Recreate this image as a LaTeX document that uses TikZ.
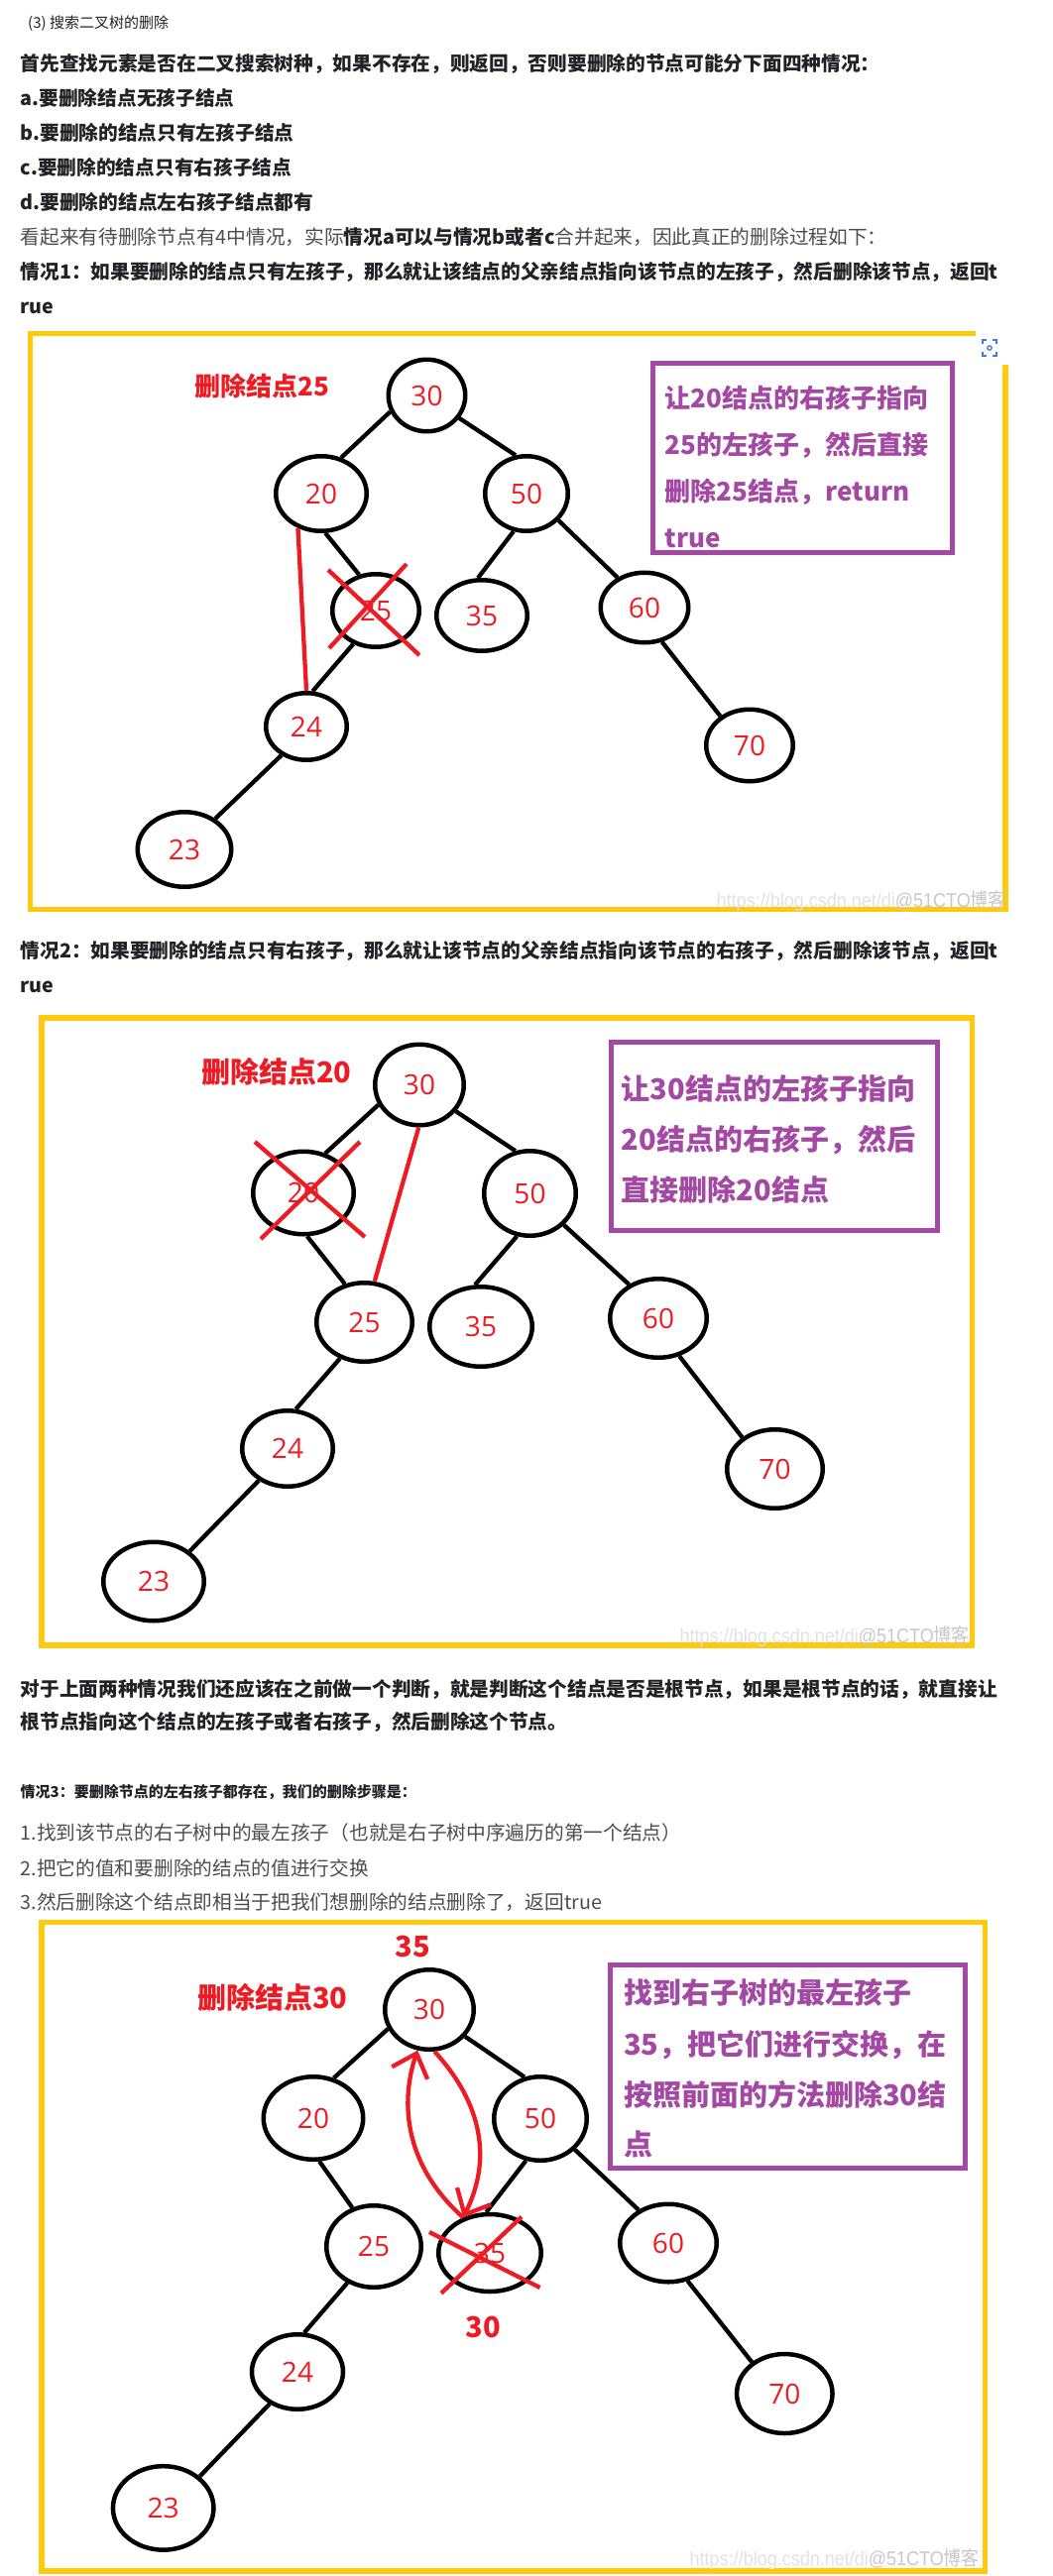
\documentclass[tikz,border=0pt]{standalone}
\usepackage{fontspec}
\setmainfont{Noto Sans CJK SC}
\newfontfamily\numfont{Open Sans}
\newfontfamily\wmfont{Liberation Sans}
\newfontfamily\cjkwm{Noto Sans CJK SC}
\usetikzlibrary{shapes.geometric,arrows.meta}
\definecolor{gold}{HTML}{FFC90E}
\definecolor{pred}{HTML}{ED1C24}
\definecolor{ppurple}{HTML}{A349A4}
\definecolor{txtdark}{HTML}{222226}
\definecolor{txtgray}{HTML}{4D4D4D}
\definecolor{wmlight}{HTML}{E2E2E2}
\definecolor{wmdark}{HTML}{C8C8C8}
\definecolor{iconblue}{HTML}{3D7DD8}
\tikzset{
  tn/.style={ellipse, draw=black, line width=4.5pt, inner sep=0pt, text=pred,
    font=\numfont\fontsize{28}{30}\selectfont},
  edge/.style={black, line width=4.3pt},
  redline/.style={pred, line width=4.3pt},
  goldframe/.style={gold, line width=5.5pt},
  pbox/.style={ppurple, line width=5pt},
  bline/.style={anchor=base west, inner sep=0pt, text=txtdark,
    font=\bfseries\fontsize{19.7}{24}\selectfont},
  gline/.style={anchor=base west, inner sep=0pt, text=txtgray,
    font=\fontsize{19.7}{24}\selectfont},
  sline/.style={anchor=base west, inner sep=0pt, text=txtdark,
    font=\fontsize{15}{18}\selectfont},
  ptextA/.style={anchor=base west, inner sep=0pt, text=ppurple,
    font=\bfseries\fontsize{26}{30}\selectfont},
  ptextB/.style={anchor=base west, inner sep=0pt, text=ppurple,
    font=\bfseries\fontsize{29}{32}\selectfont},
  rlabA/.style={anchor=base west, inner sep=0pt, text=pred,
    font=\bfseries\fontsize{26}{30}\selectfont},
  rlabB/.style={anchor=base west, inner sep=0pt, text=pred,
    font=\bfseries\fontsize{29}{32}\selectfont},
  rnum/.style={anchor=base, inner sep=0pt, text=pred,
    font=\bfseries\fontsize{29}{32}\selectfont},
  wm/.style={anchor=east, inner sep=0pt, font=\wmfont\fontsize{20}{22}\selectfont},
  swap/.style={redline, -{Straight Barb[length=21pt, width=38pt]}},
}
\newcommand{\wmtext}{\scalebox{0.9}[1]{\color{wmlight}https://blog.csdn.net/di\color{wmdark}@51CTO{\cjkwm 博客}}}
\begin{document}
\begin{tikzpicture}[x=1pt, y=-1pt]
\useasboundingbox (0,0) rectangle (1061,2599);
\fill[white] (0,0) rectangle (1061,2599);

% ---------------- header text ----------------
\node[sline] (title) at (28,28) {(3) 搜索二叉树的删除};
\node[bline] (l1) at (20.5,71) {首先查找元素是否在二叉搜索树种，如果不存在，则返回，否则要删除的节点可能分下面四种情况：};
\node[bline] (l2) at (20.5,106) {a.要删除结点无孩子结点};
\node[bline] (l3) at (20.5,141.5) {b.要删除的结点只有左孩子结点};
\node[bline] (l4) at (20.5,176) {c.要删除的结点只有右孩子结点};
\node[bline] (l5) at (20.5,211) {d.要删除的结点左右孩子结点都有};
\node[gline] (l6) at (20.5,246) {看起来有待删除节点有4中情况，实际{\bfseries\color{txtdark}情况a可以与情况b或者c}合并起来，因此真正的删除过程如下：};
\node[bline] (l7) at (20.5,281) {情况1：如果要删除的结点只有左孩子，那么就让该结点的父亲结点指向该节点的左孩子，然后删除该节点，返回t};
\node[bline] (l8) at (20.5,316) {rue};

% ---------------- frame 1 ----------------
\draw[goldframe] (30.5,336.5) rectangle (1014,917.5);
\fill[white, rounded corners=6pt] (984,328) rectangle (1021,368);
\draw[iconblue, line width=1.6pt] (991,347) -- (991,343) -- (995,343)
  (1001,343) -- (1005,343) -- (1005,347)
  (1005,355) -- (1005,359) -- (1001,359)
  (995,359) -- (991,359) -- (991,355);
\draw[iconblue, line width=1.3pt] (998,351) circle (2.2pt);

\node[tn, minimum width=77.5, minimum height=72.5] (a30) at (430.5,399) {30};
\node[tn, minimum width=91.5, minimum height=75.5] (a20) at (324,498) {20};
\node[tn, minimum width=83.5, minimum height=75.5] (a50) at (531,498) {50};
\node[tn, minimum width=87.5, minimum height=73.5] (a25) at (379,616) {25};
\node[tn, minimum width=91.5, minimum height=71.5] (a35) at (486,621) {35};
\node[tn, minimum width=88.5, minimum height=70.5] (a60) at (650,613) {60};
\node[tn, minimum width=81.5, minimum height=67.5] (a24) at (309,733) {24};
\node[tn, minimum width=87.5, minimum height=72.5] (a70) at (756,752) {70};
\node[tn, minimum width=94.5, minimum height=75.5] (a23) at (186,857) {23};

\draw[edge] (a30.204) -- (a20.61);
\draw[edge] (a30.-35) -- (a50.106);
\draw[edge] (a20.-84) -- (a25.115);
\draw[edge] (a25.236) -- (a24.80);
\draw[edge] (a24.229) -- (a23.45);
\draw[edge] (a50.251) -- (a35.96);
\draw[edge] (a50.-40) -- (a60.132);
\draw[edge] (a60.-63) -- (a70.135);
\draw[redline] (a20.236) -- (a24.90);
\draw[redline] (331,575) -- (423,661);
\draw[redline] (410,569) -- (332,654);

\node[rlabA] (del1) at (196,399) {删除结点25};
\draw[pbox] (658.5,366.5) rectangle (960.5,557.5);
\node[ptextA] (p1a) at (670.7,411.6) {让20结点的右孩子指向};
\node[ptextA] (p1b) at (670.7,458.4) {25的左孩子，然后直接};
\node[ptextA] (p1c) at (670.7,505.4) {删除25结点，return};
\node[ptextA] (p1d) at (670.7,552.4) {true};
\node[wm] (wm1) at (1015,909) {\wmtext};

% ---------------- case 2 text ----------------
\node[bline] (l9) at (20.5,966.5) {情况2：如果要删除的结点只有右孩子，那么就让该节点的父亲结点指向该节点的右孩子，然后删除该节点，返回t};
\node[bline] (l10) at (20.5,1001.5) {rue};

% ---------------- frame 2 ----------------
\draw[goldframe] (42,1027) rectangle (980.5,1660);
\node[tn, minimum width=89.5, minimum height=81.5] (b30) at (423,1094.5) {30};
\node[tn, minimum width=101.5, minimum height=83.5] (b20) at (306,1203.5) {20};
\node[tn, minimum width=92.5, minimum height=85.5] (b50) at (534.5,1204) {50};
\node[tn, minimum width=96.5, minimum height=79.5] (b25) at (367.5,1334) {25};
\node[tn, minimum width=103.5, minimum height=80.5] (b35) at (485,1338.5) {35};
\node[tn, minimum width=97.5, minimum height=79.5] (b60) at (664,1330) {60};
\node[tn, minimum width=91.5, minimum height=76.5] (b24) at (290,1461.5) {24};
\node[tn, minimum width=96.5, minimum height=79.5] (b70) at (781.5,1482) {70};
\node[tn, minimum width=101.5, minimum height=79.5] (b23) at (155,1595.5) {23};

\draw[edge] (b30.206) -- (b20.61);
\draw[edge] (b30.-36) -- (b50.109);
\draw[edge] (b20.-85) -- (b25.117);
\draw[edge] (b25.236) -- (b24.78);
\draw[edge] (b24.228) -- (b23.40);
\draw[edge] (b50.253) -- (b35.98);
\draw[edge] (b50.-43) -- (b60.131);
\draw[edge] (b60.-61) -- (b70.136);
\draw[redline] (b30.269) -- (b25.76);
\draw[redline] (257,1152) -- (368,1248);
\draw[redline] (363,1152) -- (263,1250);

\node[rlabB] (del2) at (203,1092) {删除结点20};
\draw[pbox] (616.5,1051.5) rectangle (945.5,1241.5);
\node[ptextB] (p2a) at (626.7,1109) {让30结点的左孩子指向};
\node[ptextB] (p2b) at (626.7,1160) {20结点的右孩子，然后};
\node[ptextB] (p2c) at (626.7,1211) {直接删除20结点};
\node[wm] (wm2) at (978,1651) {\wmtext};

% ---------------- middle text ----------------
\node[bline] (l11) at (20.5,1711) {对于上面两种情况我们还应该在之前做一个判断，就是判断这个结点是否是根节点，如果是根节点的话，就直接让};
\node[bline] (l12) at (20.5,1744.5) {根节点指向这个结点的左孩子或者右孩子，然后删除这个节点。};
\node[sline, font=\bfseries\fontsize{15}{18}\selectfont] (l13) at (20.5,1813) {情况3：要删除节点的左右孩子都存在，我们的删除步骤是：};
\node[gline] (l14) at (20.5,1856.5) {1.找到该节点的右子树中的最左孩子（也就是右子树中序遍历的第一个结点）};
\node[gline] (l15) at (20.5,1892) {2.把它的值和要删除的结点的值进行交换};
\node[gline] (l16) at (20.5,1926) {3.然后删除这个结点即相当于把我们想删除的结点删除了，返回true};

% ---------------- frame 3 ----------------
\draw[goldframe] (42,1939.5) rectangle (993.5,2594);
\node[tn, minimum width=89.5, minimum height=80.5] (c30) at (433,2027.5) {30};
\node[tn, minimum width=100.5, minimum height=83.5] (c20) at (316,2137) {20};
\node[tn, minimum width=93.5, minimum height=84.5] (c50) at (545,2137.5) {50};
\node[tn, minimum width=95.5, minimum height=82.5] (c25) at (377,2266.5) {25};
\node[tn, minimum width=103.5, minimum height=78] (c35) at (494,2273) {35};
\node[tn, minimum width=97.5, minimum height=78.5] (c60) at (674,2263) {60};
\node[tn, minimum width=92, minimum height=75.5] (c24) at (300,2393) {24};
\node[tn, minimum width=96.5, minimum height=80] (c70) at (791.3,2415) {70};
\node[tn, minimum width=101.5, minimum height=84.5] (c23) at (164.7,2530.4) {23};

\draw[edge] (c30.205) -- (c20.63);
\draw[edge] (c30.-37) -- (c50.111);
\draw[edge] (c20.-82) -- (c25.119);
\draw[edge] (c25.234) -- (c24.80);
\draw[edge] (c24.229) -- (c23.41);
\draw[edge] (c50.251) -- (c35.95);
\draw[edge] (c50.-42) -- (c60.132);
\draw[edge] (c60.-63) -- (c70.136);
\draw[redline] (433,2252) -- (544.6,2308);
\draw[redline] (526,2236.6) -- (445,2313.7);
\draw[swap] (c35.127) .. controls (392,2170) and (412,2095) .. (c30.254);
\draw[swap] (c30.-83) .. controls (480,2115) and (500,2172) .. (c35.127);

\node[rnum] (n35) at (416,1974) {35};
\node[rnum] (n30) at (487,2358) {30};
\node[rlabB] (del3) at (199,2026) {删除结点30};
\draw[pbox] (615.2,1982.5) rectangle (973.5,2187.5);
\node[ptextB] (p3a) at (629,2021.5) {找到右子树的最左孩子};
\node[ptextB] (p3b) at (629,2073.5) {35，把它们进行交换，在};
\node[ptextB] (p3c) at (629,2124) {按照前面的方法删除30结};
\node[ptextB] (p3d) at (629,2174.5) {点};
\node[wm] (wm3) at (988,2582) {\wmtext};
\end{tikzpicture}
\end{document}
